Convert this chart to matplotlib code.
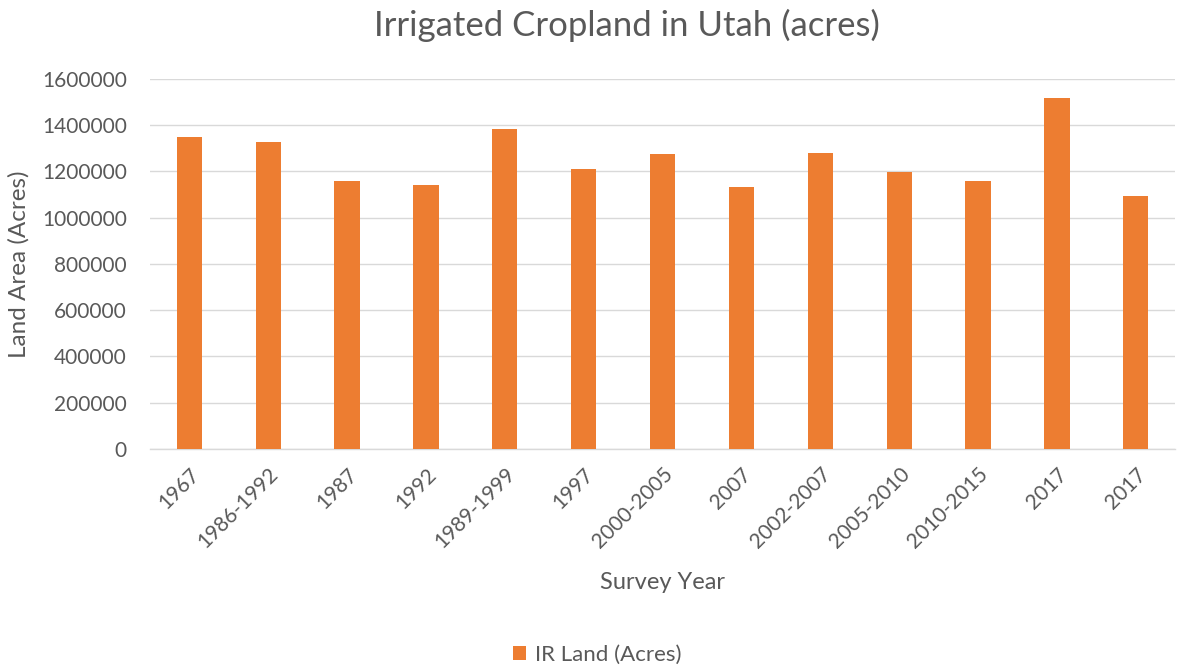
import numpy as np
import matplotlib.pyplot as plt

# survey labels and irrigated land (acres)
surveys = ['1967', '1986-1992', '1987', '1992', '1989-1999', '1997', '2000-2005',
           '2007', '2002-2007', '2005-2010', '2010-2015', '2017', '2017']
acres = [1348000, 1328000, 1158000, 1141000, 1385000, 1210000, 1277000,
         1132000, 1279000, 1196000, 1160000, 1515000, 1095000]
yticks = [0, 200000, 400000, 600000, 800000, 1000000, 1200000, 1400000, 1600000]

plt.rcParams['font.family'] = ['Lato', 'DejaVu Sans']
grey = '#595959'

fig = plt.figure(figsize=(11.8, 6.68), dpi=100)
ax = fig.add_axes([0.127, 0.328, 0.869, 0.554])

x = np.arange(len(surveys))
ax.bar(x, acres, width=0.32, color='#ED7D31', label='IR Land (Acres)', zorder=3)

ax.set_xlim(-0.5, len(surveys) - 0.5)
ax.set_ylim(0, 1600000)
ax.set_yticks(yticks)
ax.set_yticklabels([str(v) for v in yticks], fontsize=15, color=grey)
ax.set_xticks(x)
ax.set_xticklabels(surveys, rotation=45, ha='right', rotation_mode='anchor',
                   fontsize=15, color=grey)
ax.tick_params(axis='both', length=0)
ax.tick_params(axis='x', pad=11)
ax.tick_params(axis='y', pad=16.5)
ax.grid(axis='y', color='#d9d9d9', linewidth=1, zorder=0)

for s in ['top', 'right', 'left']:
    ax.spines[s].set_visible(False)
ax.spines['bottom'].set_color('#d9d9d9')
ax.spines['bottom'].set_linewidth(1)

ax.set_ylabel('Land Area (Acres)', fontsize=17.5, color=grey, labelpad=9)
ax.set_xlabel('Survey Year', fontsize=17, color=grey, labelpad=14)
fig.text(0.531, 0.962, 'Irrigated Cropland in Utah (acres)', fontsize=25,
         color=grey, ha='center', va='center')

fig.legend(loc='center', bbox_to_anchor=(0.506, 0.02), frameon=False,
           fontsize=16, labelcolor=grey, handlelength=0.6, handleheight=0.6,
           handletextpad=0.4)

fig.savefig('out.png', dpi=100)
